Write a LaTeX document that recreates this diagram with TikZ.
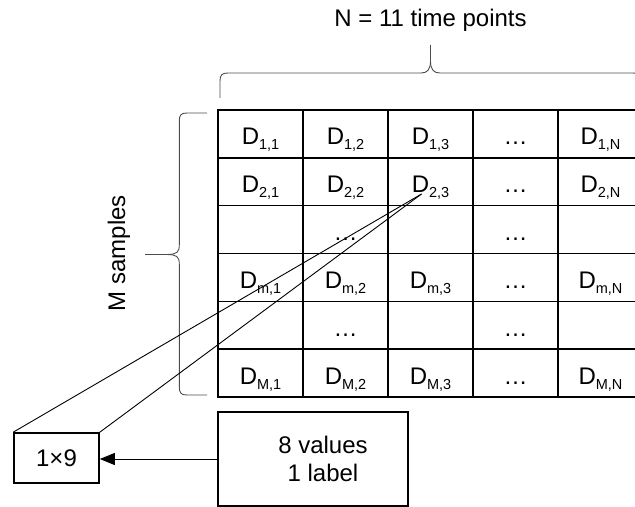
\documentclass[tikz,border=0pt]{standalone}
\usepackage{fontspec}
\setmainfont{Liberation Sans}
\usetikzlibrary{arrows.meta}

% subscripted data entry D_{i,j}
\newcommand\cellsub[1]{\raisebox{-5bp}{\fontsize{14.5bp}{15bp}\selectfont #1}}
\newcommand\dval[1]{D\cellsub{#1}}

\begin{document}
\begin{tikzpicture}[x=1bp,y=-1bp,
    lbl/.style={font=\fontsize{24bp}{28.5bp}\selectfont, inner sep=0pt},
    cell/.style={lbl, anchor=base},
    gridline/.style={line width=1.6bp, line cap=rect},
    brace/.style={line width=0.9bp, black!70},
    thinline/.style={line width=0.9bp},
    box/.style={draw, line width=1.6bp, lbl},
    arrowline/.style={line width=0.9bp, -{Triangle[length=15bp,width=12bp]}}]
\useasboundingbox (0,0) rectangle (635,507);

% table grid: 5 columns x 6 rows
\foreach \i in {0,...,5}
  \draw[gridline] ({218+85*\i},110) -- ({218+85*\i},397);
\foreach \j in {0,...,6}
  \draw[gridline] (218,{110+47.833*\j}) -- (643,{110+47.833*\j});

% cell entries (baseline 35 below the row top)
\foreach \t [count=\c] in {{\dval{1,1}},{\dval{1,2}},{\dval{1,3}},{…},{\dval{1,N}}}
  \node[cell] (c-1-\c) at ({260.5+85*(\c-1)},145) {\t};
\foreach \t [count=\c] in {{\dval{2,1}},{\dval{2,2}},{\dval{2,3}},{…},{\dval{2,N}}}
  \node[cell] (c-2-\c) at ({260.5+85*(\c-1)},192.8) {\t};
\node[cell] (c-3-2) at (345.5,240.7) {…};
\node[cell] (c-3-4) at (515.5,240.7) {…};
\foreach \t [count=\c] in {{\dval{m,1}},{\dval{m,2}},{\dval{m,3}},{…},{\dval{m,N}}}
  \node[cell] (c-4-\c) at ({260.5+85*(\c-1)},288.5) {\t};
\node[cell] (c-5-2) at (345.5,336.3) {…};
\node[cell] (c-5-4) at (515.5,336.3) {…};
\foreach \t [count=\c] in {{\dval{M,1}},{\dval{M,2}},{\dval{M,3}},{…},{\dval{M,N}}}
  \node[cell] (c-6-\c) at ({260.5+85*(\c-1)},384.2) {\t};

% column brace and caption
\node[lbl, anchor=base] (title) at (430.5,26.7) {N = 11 time points};
\draw[brace] (220,98) -- (220,81) .. controls (220,75) and (222,73) .. (228,73)
  -- (421,73) .. controls (427,73) and (430.5,70) .. (430.5,61) -- (430.5,45);
\draw[brace] (641,98) -- (641,81) .. controls (641,75) and (639,73) .. (633,73)
  -- (440,73) .. controls (434,73) and (430.5,70) .. (430.5,61);

% row brace and caption
\node[lbl, rotate=90, anchor=base] (msamp) at (125,253) {M samples};
\draw[brace] (207,113) -- (187,113) .. controls (181,113) and (179.3,115) .. (179.3,121)
  -- (179.3,245) .. controls (179.3,252) and (177,254.5) .. (167,254.5) -- (145,254.5);
\draw[brace] (207,395) -- (187,395) .. controls (181,395) and (179.3,393) .. (179.3,387)
  -- (179.3,264) .. controls (179.3,257) and (177,254.5) .. (167,254.5);

% one sample vector and its description
\node[box, minimum width=85bp, minimum height=50bp] (one) at (56.5,458) {1×9};
\node[box, minimum width=190bp, minimum height=94bp] (vals) at (313,459) {};
\node[lbl, align=center] (valtxt) at (323,459) {8 values\\1 label};
\draw[arrowline] (vals.west) -- (vals.west -| one.east);

% projection lines from the entry to the vector box
\coordinate (apex) at (421.5,194);
\draw[thinline] (one.north west) -- (apex);
\draw[thinline] (one.north east) -- (apex);
\end{tikzpicture}
\end{document}
